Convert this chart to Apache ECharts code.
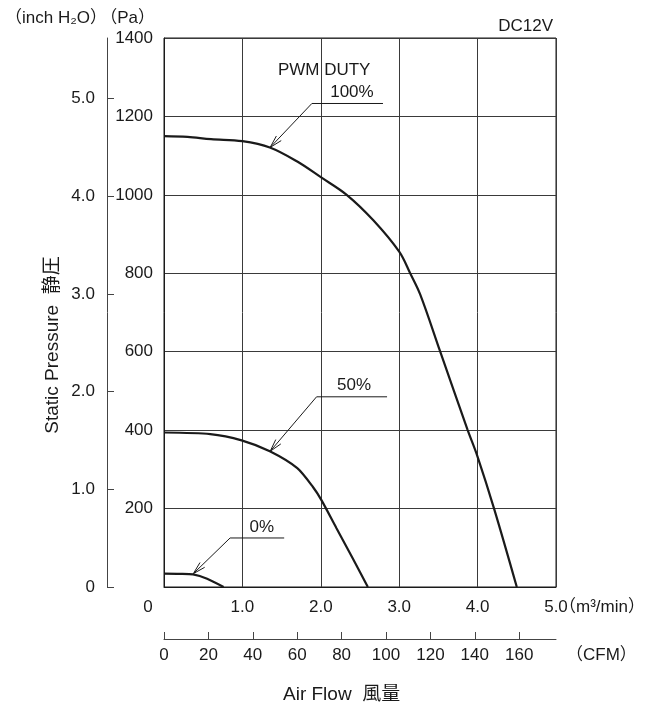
<!DOCTYPE html>
<html>
<head>
<meta charset="utf-8">
<script src="https://cdn.jsdelivr.net/npm/echarts@6/dist/echarts.min.js"></script>
<style>html,body{margin:0;padding:0;background:#fff;}#chart{width:650px;height:706px;}</style>
</head>
<body>
<div id="chart"></div>
<script>
// ---- data (m³/min, Pa) ----
const duty100Flow = [0, 0.3, 0.6, 1.0, 1.35, 1.7, 2.0, 2.33, 2.67, 3.0, 3.14, 3.27, 3.52, 3.87, 4.0, 4.21, 4.5];
const duty100Pres = [1150, 1148, 1142, 1137, 1121, 1085, 1045, 1000, 935, 855, 800, 745, 602, 402, 332, 200, 0];
const duty50Flow = [0, 0.59, 0.99, 1.35, 1.7, 1.9, 2.01, 2.2, 2.41, 2.6];
const duty50Pres = [394, 390, 374, 346, 303, 255, 221, 150, 72, 0];
const duty0Flow = [0, 0.2, 0.37, 0.55, 0.76];
const duty0Pres = [34, 33.5, 32, 21, 0];

const m3Ticks = [0, 1, 2, 3, 4, 5];
const cfmTicks = [0, 20, 40, 60, 80, 100, 120, 140, 160];
const paTicks = [0, 200, 400, 600, 800, 1000, 1200, 1400];
const inchTicks = [0, 1, 2, 3, 4, 5];

const CFM_PER_M3 = 35.3147;
const PA_PER_INCH = 249.089;

// annotations (data units)
const noteLabels = ['100%', '50%', '0%'];
const noteTip = [[1.354, 1121], [1.354, 346], [0.374, 34]];
const noteElbow = [[1.886, 1233], [1.946, 485], [0.843, 125]];
const noteEnd = [[2.793, 1233], [2.845, 485], [1.533, 125]];
const noteText = [[2.397, 1262], [2.424, 515], [1.248, 153]];
const headerLabel = 'PWM DUTY';
const headerAt = [2.043, 1317];

const FONT = '"Liberation Sans", "Noto Sans CJK JP", sans-serif';
const FS = 17;
const FT = 19;
const INK = '#1a1a1a';

const pairs = (xs, ys) => xs.map((x, i) => [x, ys[i]]);

const chart = echarts.init(document.getElementById('chart'), null, {renderer: 'canvas'});

const noteData = noteLabels.map((t, i) => ({
  name: t,
  value: [noteTip[i][0], noteTip[i][1], noteElbow[i][0], noteElbow[i][1], noteEnd[i][0], noteEnd[i][1], noteText[i][0], noteText[i][1]]
}));

function renderNote(params, api) {
  const tip = api.coord([api.value(0), api.value(1)]);
  const elb = api.coord([api.value(2), api.value(3)]);
  const end = api.coord([api.value(4), api.value(5)]);
  const txt = api.coord([api.value(6), api.value(7)]);
  const ang = Math.atan2(elb[1] - tip[1], elb[0] - tip[0]);
  const L = 13, a = 0.26;
  const h1 = [tip[0] + L * Math.cos(ang + a), tip[1] + L * Math.sin(ang + a)];
  const h2 = [tip[0] + L * Math.cos(ang - a), tip[1] + L * Math.sin(ang - a)];
  const ls = {stroke: INK, lineWidth: 1, fill: null};
  return {
    type: 'group',
    children: [
      {type: 'polyline', shape: {points: [tip, elb, end]}, style: ls},
      {type: 'polyline', shape: {points: [h1, tip, h2]}, style: ls},
      {type: 'text', style: {text: noteLabels[params.dataIndex], x: txt[0], y: txt[1], align: 'center', verticalAlign: 'middle', font: FS + 'px ' + FONT, fill: INK}}
    ]
  };
}

function renderHeader(params, api) {
  const p = api.coord([api.value(0), api.value(1)]);
  return {type: 'text', style: {text: headerLabel, x: p[0], y: p[1], align: 'center', verticalAlign: 'middle', font: FS + 'px ' + FONT, fill: INK}};
}

const curveStyle = {color: INK, width: 2.2};

const option = {
  animation: false,
  backgroundColor: '#fff',
  textStyle: {fontFamily: FONT, fontSize: FS, color: INK},
  grid: {left: 164, right: 94, top: 38, bottom: 119, show: true, borderColor: INK, borderWidth: 1},
  xAxis: [
    {
      type: 'value', min: 0, max: 5, interval: 1, position: 'bottom',
      axisLine: {show: true, onZero: false, lineStyle: {color: INK}},
      axisTick: {show: false},
      splitLine: {show: true, lineStyle: {color: '#3a3a3a', width: 1}},
      axisLabel: {
        margin: 12, fontSize: FS, color: INK, fontFamily: FONT,
        customValues: m3Ticks,
        formatter: v => v === 0 ? '{z|0}' : v.toFixed(1),
        rich: {z: {padding: [0, 32, 0, 0], fontSize: FS, fontFamily: FONT, color: INK}}
      }
    },
    {
      type: 'value', min: 0, max: 5 * CFM_PER_M3, position: 'bottom', offset: 52,
      axisLine: {show: true, onZero: false, lineStyle: {color: '#444'}},
      axisTick: {show: true, inside: true, length: 7, customValues: cfmTicks, lineStyle: {color: '#444'}},
      splitLine: {show: false},
      axisLabel: {margin: 8, fontSize: FS, color: INK, fontFamily: FONT, customValues: cfmTicks, formatter: v => String(v)}
    }
  ],
  yAxis: [
    {
      type: 'value', min: 0, max: 1400, interval: 200, position: 'left',
      axisLine: {show: true, onZero: false, lineStyle: {color: INK}},
      axisTick: {show: false},
      splitLine: {show: true, lineStyle: {color: '#3a3a3a', width: 1}},
      axisLabel: {margin: 11, fontSize: FS, color: INK, fontFamily: FONT, customValues: paTicks, formatter: v => v === 0 ? '' : String(v)},
      name: '（Pa）', nameLocation: 'end', nameGap: 20,
      nameTextStyle: {fontSize: FS, fontFamily: FONT, color: INK, align: 'right', verticalAlign: 'middle', padding: [0, 9, 0, 0]}
    },
    {
      type: 'value', min: 0, max: 1400 / PA_PER_INCH, position: 'left', offset: 57,
      axisLine: {show: true, onZero: false, lineStyle: {color: '#444'}},
      axisTick: {show: true, inside: true, length: 7, customValues: inchTicks, lineStyle: {color: '#444'}},
      splitLine: {show: false},
      axisLabel: {margin: 12, fontSize: FS, color: INK, fontFamily: FONT, customValues: inchTicks, formatter: v => v === 0 ? '0' : v.toFixed(1)},
      name: '（inch H₂O）', nameLocation: 'end', nameGap: 20,
      nameTextStyle: {fontSize: FS, fontFamily: FONT, color: INK, align: 'right', verticalAlign: 'middle'}
    }
  ],
  graphic: [
    {type: 'text', x: 553, y: 26, style: {text: 'DC12V', align: 'right', verticalAlign: 'middle', font: FS + 'px ' + FONT, fill: INK}},
    {type: 'text', x: 559, y: 607, style: {text: '（m³/min）', align: 'left', verticalAlign: 'middle', font: FS + 'px ' + FONT, fill: INK}},
    {type: 'text', x: 566, y: 655, style: {text: '（CFM）', align: 'left', verticalAlign: 'middle', font: FS + 'px ' + FONT, fill: INK}},
    {type: 'text', x: 53, y: 345, rotation: Math.PI / 2, style: {text: 'Static Pressure  静圧', align: 'center', verticalAlign: 'middle', font: FT + 'px ' + FONT, fill: INK}},
    {type: 'text', x: 283, y: 695, style: {text: 'Air Flow  風量', align: 'left', verticalAlign: 'middle', font: FT + 'px ' + FONT, fill: INK}}
  ],
  series: [
    {type: 'line', name: '100%', xAxisIndex: 0, yAxisIndex: 0, data: pairs(duty100Flow, duty100Pres), smooth: 0.35, showSymbol: false, lineStyle: curveStyle, z: 5},
    {type: 'line', name: '50%', xAxisIndex: 0, yAxisIndex: 0, data: pairs(duty50Flow, duty50Pres), smooth: 0.25, showSymbol: false, lineStyle: curveStyle, z: 5},
    {type: 'line', name: '0%', xAxisIndex: 0, yAxisIndex: 0, data: pairs(duty0Flow, duty0Pres), smooth: 0.25, showSymbol: false, lineStyle: curveStyle, z: 5},
    {type: 'custom', xAxisIndex: 0, yAxisIndex: 0, renderItem: renderNote, data: noteData, clip: false, z: 6, encode: {x: [0, 2, 4, 6], y: [1, 3, 5, 7]}},
    {type: 'custom', xAxisIndex: 0, yAxisIndex: 0, renderItem: renderHeader, data: [headerAt], clip: false, z: 6}
  ]
};
chart.setOption(option);
</script>
</body>
</html>
